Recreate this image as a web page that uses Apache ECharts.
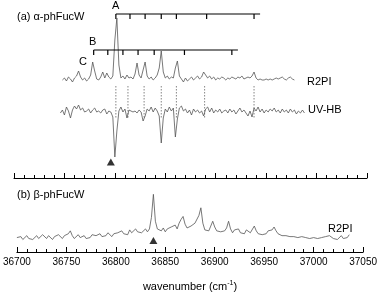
<!DOCTYPE html>
<html><head><meta charset="utf-8">
<script src="https://cdn.jsdelivr.net/npm/echarts@6/dist/echarts.min.js"></script>
<style>html,body{margin:0;padding:0;background:#fff}#c{width:380px;height:293px}</style>
</head><body><div id="c"></div>
<script>
// ---- data ----
const xTicks = [36700, 36750, 36800, 36850, 36900, 36950, 37000, 37050];
// (a) alpha R2PI, start 36748, step 2 cm-1 (intensity above baseline)
const r2piAStart = 36748;
const r2piA = [
 0,2,-1,3,1,-2,2,4,9,3,
 0,2,-1,1,5,18,9,1,0,3,
 8,2,7,3,1,4,40,62,15,2,
 4,1,5,2,3,1,6,17,5,2,
 10,18,4,1,3,0,2,5,12,29,
 8,2,4,1,3,2,12,19,4,1,
 -2,2,-1,1,3,0,2,4,1,3,
 8,5,2,4,1,3,0,2,1,3,
 2,0,2,1,3,2,1,3,2,4,
 1,2,3,2,4,8,2,0,1,0,
 0,1,0,1,0,1,2,1,2,3,
 1,0,2,3,1,0
];
// (a) alpha UV-HB, start 36746, step 2
const uvhbStart = 36746;
const uvhb = [
 0,3,-2,6,2,-5,3,7,4,8,
 3,5,1,2,4,0,3,5,1,2,
 0,3,4,-1,2,1,-4,-44,-18,2,
 6,1,4,-5,3,2,1,2,0,3,
 1,-8,-3,4,2,6,1,5,2,-3,
 -30,-5,4,1,6,2,5,-24,-6,5,
 7,2,4,0,3,-2,4,1,3,0,
 2,-3,4,6,1,5,0,3,1,4,
 0,2,3,0,4,1,3,-1,2,5,
 1,3,0,-3,2,-4,5,2,6,1,
 4,0,3,1,4,2,5,1,3,0,
 4,1,3,0,4,1,3,-1,2,0,
 3,0
];
// (b) beta R2PI, start 36700, step 2
const r2piBStart = 36700;
const r2piB = [
 15,14,16,13,15,17,14,16,13,15,
 17,14,15,18,16,14,17,15,13,16,
 15,18,16,14,17,15,19,22,17,14,
 16,18,15,13,17,14,16,15,18,16,
 17,15,19,16,18,17,20,18,16,19,
 17,20,18,22,19,21,18,23,20,22,
 24,21,23,20,22,24,21,24,36,60,
 32,24,26,22,25,21,24,22,26,24,
 28,24,30,34,37,29,25,23,27,25,
 30,28,38,46,30,23,24,22,27,32,
 26,22,24,21,23,22,25,32,24,20,
 23,21,24,20,22,19,23,21,20,22,
 27,22,19,21,18,20,19,22,20,23,
 26,22,19,20,17,19,17,18,16,17,
 16,18,15,17,16,18,15,17,14,16,
 15,17,14,16,15,13,16,14,17,15,
 14,16,13,15,17,14,16,15,18
];
const combA = [36801, 36815, 36830, 36846, 36861, 36891, 36938];
const combB = [36779, 36793, 36808, 36823, 36839, 36869, 36916];
const dashedPos = [36801, 36813, 36829, 36846, 36861, 36889, 36938];
const triTop = [36796];
const triBottom = [36838];

// ---- layout constants ----
const baseR2PI = 98, baseUV = 65;
const combAY = 164, combBY = 128, combTick = 5, combExt = 6;
const dashTop = 92, dashBot = 60;
const traceColor = '#555';

const toSeries = (start, arr, off) => arr.map((v, i) => [start + 2 * i, v + off]);

function combSeries(pos, y) {
  return [{
    type: 'line', xAxisIndex: 0, yAxisIndex: 0, symbol: 'none', silent: true,
    data: [[pos[0], y], [pos[pos.length - 1] + combExt, y]],
    lineStyle: { color: '#000', width: 1.2 }
  }, {
    type: 'custom', xAxisIndex: 0, yAxisIndex: 0, silent: true,
    data: pos.map(p => [p]),
    renderItem: (params, api) => {
      const a = api.coord([api.value(0), y]);
      const b = api.coord([api.value(0), y - combTick]);
      return { type: 'line', shape: { x1: a[0], y1: a[1], x2: b[0], y2: b[1] }, style: { stroke: '#000', lineWidth: 1.2 } };
    }
  }];
}

const axisCommon = {
  type: 'value', min: 36700, max: 37050, interval: 50,
  axisLine: { show: true, lineStyle: { color: '#000', width: 1 } },
  axisTick: { show: true, inside: true, length: 5, lineStyle: { color: '#000' } },
  minorTick: { show: true, splitNumber: 5, length: 3, lineStyle: { color: '#000' } },
  splitLine: { show: false }
};

const chart = echarts.init(document.getElementById('c'), null, { renderer: 'canvas' });
chart.setOption({
  animation: false,
  grid: [
    { left: 14, right: 13, top: 0, height: 178 },
    { left: 14, right: 13, top: 178, height: 77 }
  ],
  xAxis: [
    Object.assign({ gridIndex: 0, axisLabel: { show: false } }, axisCommon),
    Object.assign({ gridIndex: 1,
      axisLabel: { show: true, fontSize: 10, color: '#000', fontFamily: 'Liberation Sans', margin: 5,
        formatter: v => xTicks.includes(v) ? String(v) : '' },
      name: 'wavenumber (cm{sup|-1})', nameLocation: 'middle', nameGap: 28,
      nameTextStyle: { fontSize: 11, color: '#000', fontFamily: 'Liberation Sans',
        rich: { sup: { fontSize: 7, verticalAlign: 'top', padding: [0, 0, 6, 0], color: '#000' } } }
    }, axisCommon)
  ],
  yAxis: [
    { gridIndex: 0, type: 'value', min: 0, max: 178, show: false },
    { gridIndex: 1, type: 'value', min: 0, max: 77, show: false }
  ],
  series: [
    { type: 'line', xAxisIndex: 0, yAxisIndex: 0, symbol: 'none', data: toSeries(r2piAStart, r2piA, baseR2PI),
      lineStyle: { color: traceColor, width: 0.8 } },
    { type: 'line', xAxisIndex: 0, yAxisIndex: 0, symbol: 'none', data: toSeries(uvhbStart, uvhb, baseUV),
      lineStyle: { color: traceColor, width: 0.8 } },
    { type: 'line', xAxisIndex: 1, yAxisIndex: 1, symbol: 'none', data: toSeries(r2piBStart, r2piB, 0),
      lineStyle: { color: traceColor, width: 0.8 } },
    ...combSeries(combA, combAY),
    ...combSeries(combB, combBY),
    { type: 'custom', xAxisIndex: 0, yAxisIndex: 0, silent: true,
      data: dashedPos.map(p => [p]),
      renderItem: (params, api) => {
        const a = api.coord([api.value(0), dashTop]);
        const b = api.coord([api.value(0), dashBot]);
        return { type: 'line', shape: { x1: a[0], y1: a[1], x2: b[0], y2: b[1] },
          style: { stroke: '#666', lineWidth: 0.8, lineDash: [1.5, 1.5] } };
      } },
    { type: 'scatter', xAxisIndex: 0, yAxisIndex: 0, symbol: 'triangle', symbolSize: [8, 7],
      data: triTop.map(x => [x, 16]), itemStyle: { color: '#000' } },
    { type: 'scatter', xAxisIndex: 1, yAxisIndex: 1, symbol: 'triangle', symbolSize: [8, 7],
      data: triBottom.map(x => [x, 12]), itemStyle: { color: '#000' } }
  ],
  graphic: [
    { type: 'text', left: 17, top: 11, style: { text: '(a) α-phFucW', font: '11px "Liberation Sans"', fill: '#000' } },
    { type: 'text', left: 17, top: 189, style: { text: '(b) β-phFucW', font: '11px "Liberation Sans"', fill: '#000' } },
    { type: 'text', left: 112, top: 0, style: { text: 'A', font: '11px "Liberation Sans"', fill: '#000' } },
    { type: 'text', left: 89, top: 36, style: { text: 'B', font: '11px "Liberation Sans"', fill: '#000' } },
    { type: 'text', left: 79, top: 56, style: { text: 'C', font: '11px "Liberation Sans"', fill: '#000' } },
    { type: 'text', left: 307, top: 76, style: { text: 'R2PI', font: '11px "Liberation Sans"', fill: '#000' } },
    { type: 'text', left: 308, top: 104, style: { text: 'UV-HB', font: '11px "Liberation Sans"', fill: '#000' } },
    { type: 'text', left: 328, top: 223, style: { text: 'R2PI', font: '11px "Liberation Sans"', fill: '#000' } }
  ]
});
</script></body></html>
